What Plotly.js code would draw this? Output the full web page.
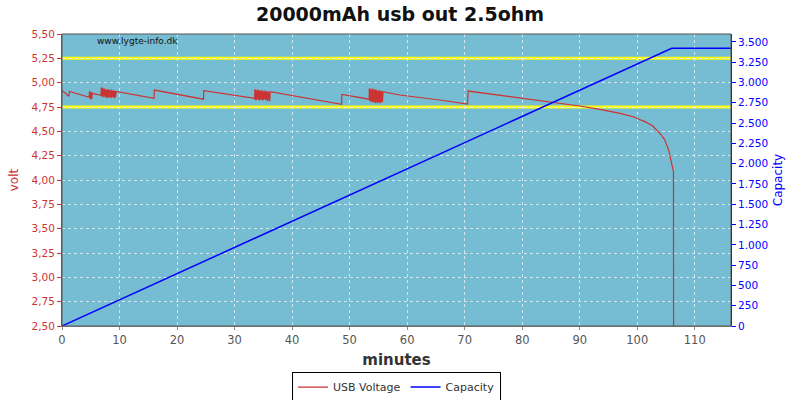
<!DOCTYPE html>
<html><head><meta charset="utf-8">
<script src="https://cdn.plot.ly/plotly-3.0.1.min.js"></script>
<style>body{margin:0;background:#fff}#c{width:800px;height:400px}</style>
</head><body><div id="c"></div>
<script>
// USB voltage (minutes, volt)
var voltT = [0, 1.2, 1.3, 4.75,
  4.76, 4.82, 4.88, 4.94, 5.0, 5.06, 5.12, 5.18, 5.24, 5.3,
  6.8, 6.82, 6.9, 7.0, 7.1, 7.2, 7.3, 7.4, 7.5, 7.6, 7.7, 7.8, 7.9, 8.0, 8.1, 8.2, 8.3, 8.4, 8.5, 8.6, 8.7, 8.8, 8.9, 9.0, 9.1, 9.2, 9.3, 9.4,
  16.0, 16.05, 24.6, 24.65,
  33.5, 33.52, 33.6, 33.7, 33.8, 33.9, 34.0, 34.1, 34.2, 34.3, 34.4, 34.5, 34.6, 34.7, 34.8, 34.9, 35.0, 35.1, 35.2, 35.3, 35.4, 35.5, 35.6, 35.7, 35.8, 35.9, 36.0, 36.1, 36.2,
  48.6, 48.65,
  53.4, 53.42, 53.5, 53.6, 53.7, 53.8, 53.9, 54.0, 54.1, 54.2, 54.3, 54.4, 54.5, 54.6, 54.7, 54.8, 54.9, 55.0, 55.1, 55.2, 55.3, 55.4, 55.5, 55.6, 55.7, 55.8,
  58.7, 65.7, 70.5, 70.6, 84.8, 90.0, 93.5, 97.0, 99.3, 100.4, 101.5, 102.7, 103.5, 104.2, 104.7, 105.1, 105.4, 105.6, 105.9, 106.1, 106.3, 106.32];
var voltV = [4.92, 4.86, 4.91, 4.85,
  4.91, 4.83, 4.90, 4.83, 4.91, 4.84, 4.90, 4.83, 4.89, 4.89,
  4.87, 4.95, 4.86, 4.95, 4.85, 4.94, 4.86, 4.94, 4.85, 4.93, 4.85, 4.93, 4.84, 4.93, 4.85, 4.93, 4.85, 4.92, 4.84, 4.93, 4.85, 4.92, 4.85, 4.92, 4.84, 4.92, 4.85, 4.91,
  4.84, 4.924, 4.83, 4.917,
  4.84, 4.93, 4.82, 4.93, 4.82, 4.92, 4.83, 4.93, 4.82, 4.92, 4.82, 4.92, 4.83, 4.92, 4.82, 4.92, 4.82, 4.91, 4.83, 4.92, 4.82, 4.91, 4.82, 4.91, 4.81, 4.91, 4.82, 4.81, 4.907,
  4.777, 4.88,
  4.83, 4.94, 4.81, 4.94, 4.81, 4.93, 4.80, 4.94, 4.80, 4.93, 4.80, 4.93, 4.79, 4.93, 4.80, 4.92, 4.79, 4.92, 4.80, 4.92, 4.79, 4.92, 4.80, 4.91, 4.80, 4.907,
  4.873, 4.822, 4.78, 4.914, 4.804, 4.76, 4.726, 4.685, 4.65, 4.625, 4.595, 4.555, 4.51, 4.462, 4.42, 4.37, 4.32, 4.27, 4.20, 4.14, 4.085, 2.5];
// Capacity (minutes, mAh)
var capT = [0, 106.0, 116.3];
var capV = [0, 3420, 3420];
// reference lines (volt)
var refLines = [5.25, 4.75];
var xTicks = [0,10,20,30,40,50,60,70,80,90,100,110];

var red = '#cc3333', blue = '#0000ff';
var traces = [
  {x: voltT, y: voltV, type: 'scatter', mode: 'lines', name: 'USB Voltage',
   line: {color: red, width: 1.2}, yaxis: 'y'},
  {x: capT, y: capV, type: 'scatter', mode: 'lines', name: 'Capacity',
   line: {color: blue, width: 1.5}, yaxis: 'y2'}
];
var shapes = refLines.map(function(v){
  return {type:'line', xref:'paper', x0:0, x1:1, yref:'y', y0:v, y1:v,
          line:{color:'#ffff00', width:3}, layer:'below'};
});
shapes.push({type:'rect', xref:'paper', yref:'paper', x0:0, x1:1, y0:0, y1:1,
             line:{color:'#555555', width:1}, fillcolor:'rgba(0,0,0,0)'});
var layout = {
  width: 800, height: 400,
  margin: {l: 62, r: 69, t: 34, b: 74, autoexpand: false},
  paper_bgcolor: '#ffffff', plot_bgcolor: '#76bcd2',
  separators: ',.',
  font: {family: 'DejaVu Sans, sans-serif', size: 11, color: '#555555'},
  title: {text: '<b>20000mAh usb out 2.5ohm</b>', x: 0.5, xanchor: 'center', y: 0.98, yanchor: 'top',
          font: {size: 19, color: '#111111', family: 'DejaVu Sans, sans-serif'}},
  xaxis: {range: [0, 116.3], tickvals: xTicks, showgrid: true, gridcolor: 'rgba(225,238,244,0.85)', griddash: 'dot',
          zeroline: false, showline: true, linecolor: '#888888', ticks: 'outside', ticklen: 3, tickcolor: '#888888',
          tickfont: {size: 11.5, color: '#555555'}, automargin: false,
          title: {text: '<b>minutes</b>', font: {size: 15, color: '#333333'}, standoff: 8}},
  yaxis: {range: [2.5, 5.5], dtick: 0.25, tick0: 2.5, tickformat: '.2f', showgrid: true,
          gridcolor: 'rgba(225,238,244,0.85)', griddash: 'dot', zeroline: false, automargin: false,
          showline: true, linecolor: red, ticks: 'outside', ticklen: 4, tickcolor: red,
          tickfont: {size: 10.5, color: red},
          title: {text: 'volt', font: {size: 12, color: red}, standoff: 10}},
  yaxis2: {range: [0, 3597], dtick: 250, tickformat: ',d', overlaying: 'y', side: 'right', automargin: false,
           showgrid: false, zeroline: false, showline: true, linecolor: blue, ticks: 'outside', ticklen: 4,
           tickcolor: blue, tickfont: {size: 10.5, color: blue},
           title: {text: 'Capacity', font: {size: 12, color: blue}, standoff: 6}},
  legend: {orientation: 'h', x: 0.5, xanchor: 'center', y: -0.209, yanchor: 'middle',
           bordercolor: '#000000', borderwidth: 1, font: {size: 11, color: '#333333'},
           itemwidth: 30, tracegroupgap: 0},
  shapes: shapes,
  annotations: [{text: 'www.lygte-info.dk', xref: 'paper', yref: 'paper', x: 0.05, y: 1, xanchor: 'left', yanchor: 'top',
                 showarrow: false, font: {size: 9, color: '#111111'}}]
};
Plotly.newPlot('c', traces, layout, {displayModeBar: false, staticPlot: true});
</script></body></html>
